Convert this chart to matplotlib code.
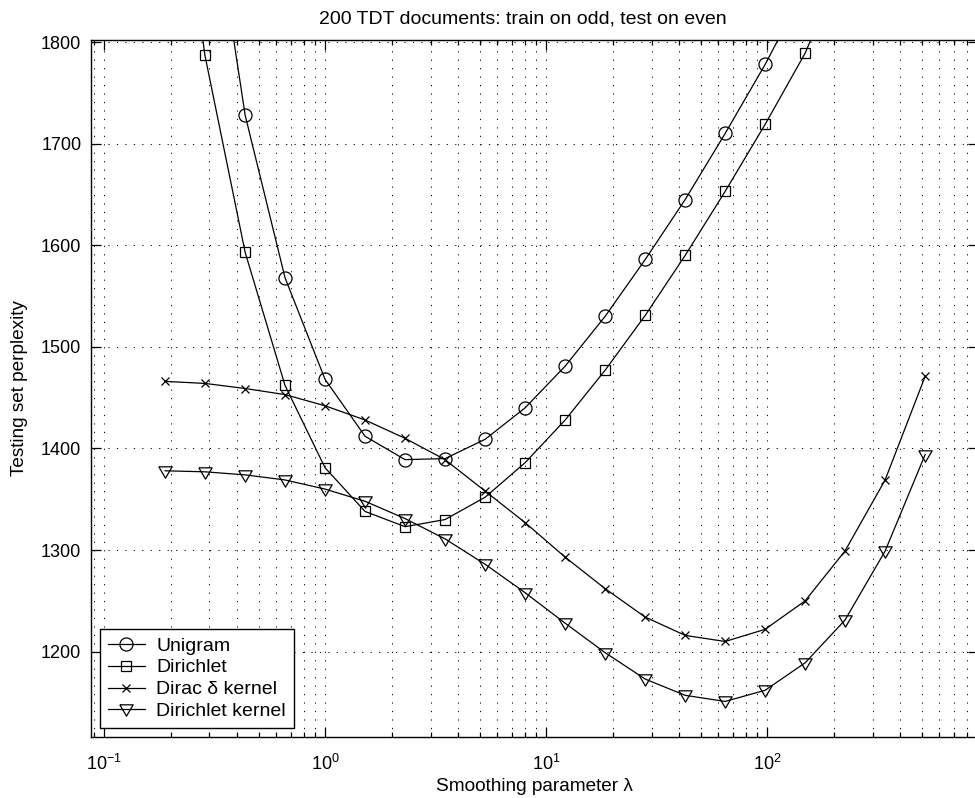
import matplotlib
matplotlib.use("Agg")
import matplotlib.pyplot as plt
import numpy as np
from matplotlib.ticker import LogLocator, MultipleLocator

plt.rcParams["font.family"] = ["Liberation Sans", "DejaVu Sans"]
plt.rcParams["mathtext.default"] = "regular"

# smoothing parameter values (shared by all curves)
lam = [0.189, 0.286, 0.435, 0.659, 1.0, 1.517, 2.30, 3.49, 5.30, 8.04,
       12.2, 18.5, 28.1, 42.6, 64.6, 98.0, 148.6, 225.0, 342.0, 519.0]

unigram = [2350, 1989, 1728, 1568, 1468, 1412, 1389, 1390, 1409, 1440,
           1481, 1530, 1586, 1645, 1710, 1778, 1853, 1935, 2020, 2110]
dirichlet = [2080, 1787, 1593, 1462, 1381, 1338, 1323, 1330, 1352, 1386,
             1428, 1477, 1531, 1590, 1653, 1719, 1789, 1881, 1975, 2070]
dirac = [1466, 1464, 1459, 1453, 1442, 1428, 1410, 1389, 1358, 1327,
         1293, 1262, 1234, 1216, 1210, 1222, 1250, 1299, 1369, 1471]
dir_kernel = [1378, 1377, 1374, 1369, 1360, 1348, 1331, 1311, 1286, 1258,
              1228, 1199, 1173, 1157, 1151, 1162, 1189, 1231, 1299, 1394]

labels = ["Unigram", "Dirichlet", "Dirac \u03b4 kernel", "Dirichlet kernel"]

# wide, flat down-triangle like the matlab one
tri = [(-6.7, 4.7), (6.7, 4.7), (0, -6.7), (-6.7, 4.7)]

fig = plt.figure(figsize=(9.75, 7.98), dpi=100)
ax = fig.add_axes([91 / 975, 1 - 737 / 798, (978 - 91) / 975, (737 - 40) / 798])

style = dict(color="k", lw=0.9, mfc="none", mec="k", mew=0.9)
ax.plot(lam, unigram, marker="o", ms=9.4, label=labels[0], **style)
ax.plot(lam, dirichlet, marker="s", ms=7.2, label=labels[1], **style)
ax.plot(lam, dirac, marker="x", ms=6.0, label=labels[2], **style)
ax.plot(lam, dir_kernel, marker=tri, ms=9.6, label=labels[3], **style)

ax.set_xscale("log")
ax.set_xlim(0.0873, 900)
ax.set_ylim(1116, 1802)
ax.yaxis.set_major_locator(MultipleLocator(100))
ax.xaxis.set_major_locator(LogLocator(base=10, numticks=10))
ax.xaxis.set_minor_locator(LogLocator(base=10, subs=np.arange(2, 10), numticks=20))

grid_ls = (0, (1.2, 7.5))
ax.grid(True, which="major", axis="both", color="k", lw=0.7, ls=grid_ls)
ax.grid(True, which="minor", axis="x", color="k", lw=0.7, ls=grid_ls)
ax.set_axisbelow(True)

ax.tick_params(which="both", direction="in", top=True, right=True,
               labelsize=13, width=0.9)
ax.tick_params(which="major", length=7)
ax.tick_params(which="minor", length=3.5)
ax.tick_params(axis="x", which="major", pad=12)
ax.tick_params(axis="y", which="major", pad=7)
for s in ax.spines.values():
    s.set_linewidth(1.0)

ax.set_title("200 TDT documents: train on odd, test on even", fontsize=14,
             pad=12, x=(523 - 91) / 887)
ax.set_xlabel("Smoothing parameter \u03bb", fontsize=13.7, labelpad=3)
ax.set_ylabel("Testing set perplexity", fontsize=13.7, labelpad=9)

leg = ax.legend(loc="lower left", fontsize=14, fancybox=False, framealpha=1,
                edgecolor="k", borderaxespad=0.46, handlelength=1.9,
                handletextpad=0.6, labelspacing=0.22, borderpad=0.4)
leg.get_frame().set_linewidth(1.0)

fig.savefig("out.png", dpi=100)
